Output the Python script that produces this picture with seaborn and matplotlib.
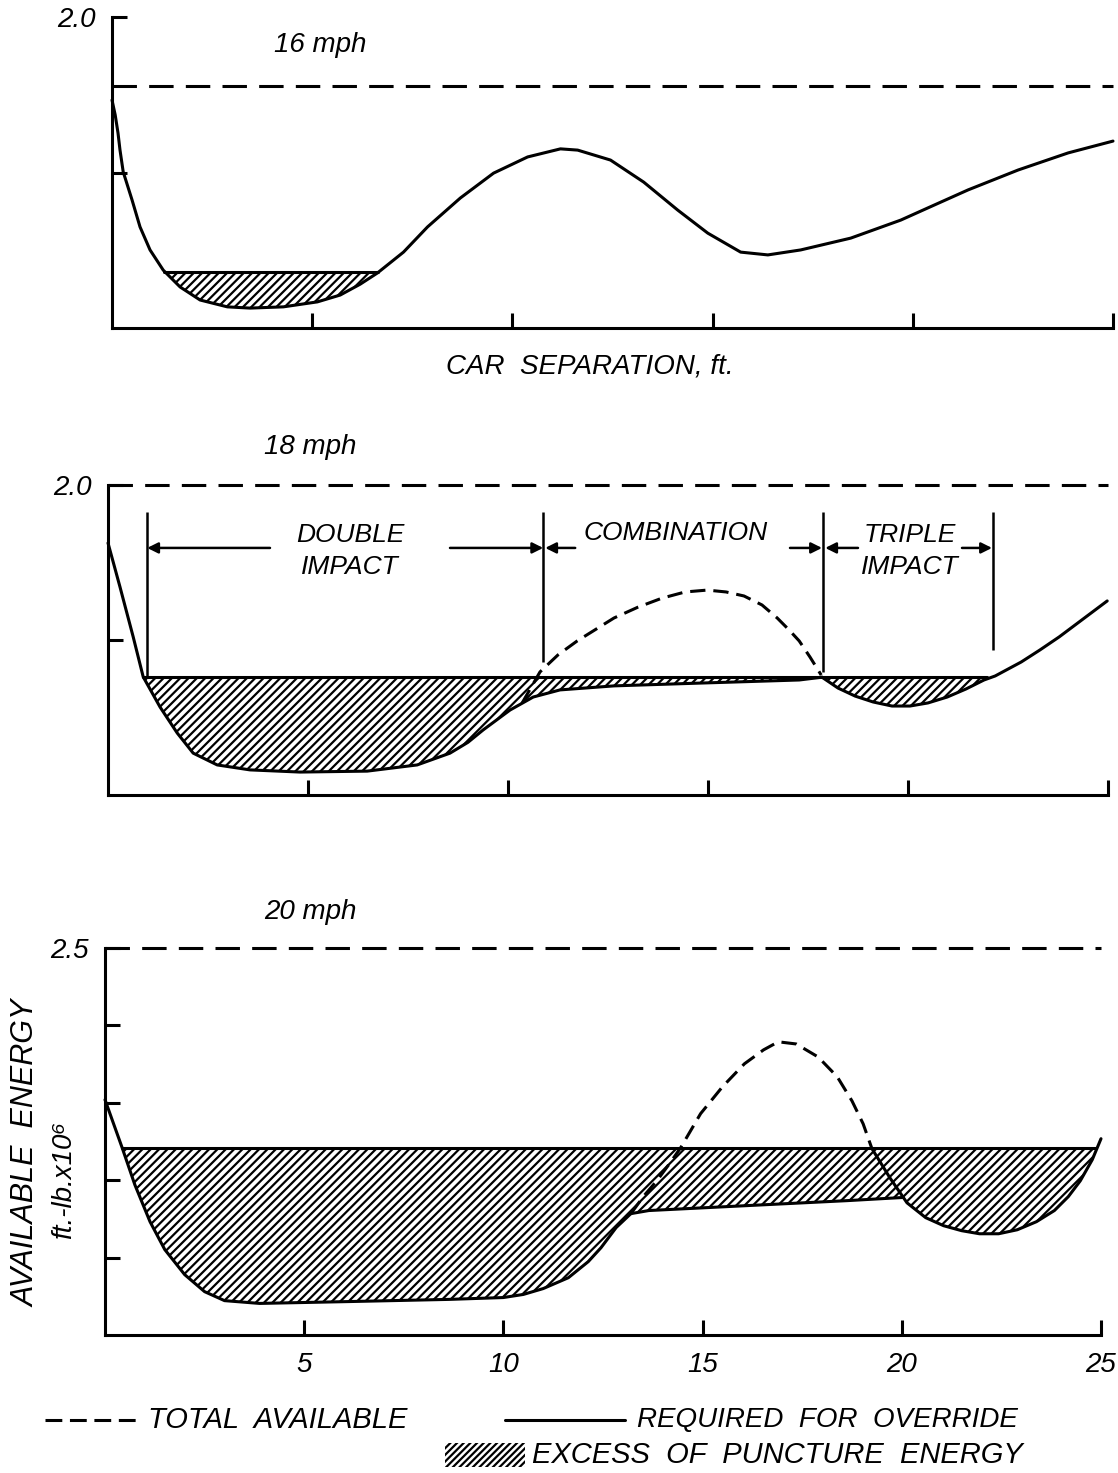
import numpy as np
import matplotlib
matplotlib.use("Agg")
import matplotlib.pyplot as plt
import seaborn as sns
from matplotlib.patches import Rectangle
from matplotlib.lines import Line2D

# ---------------- data ----------------
# 16 mph panel
p16_x = [0, 0.08, 0.15, 0.2, 0.28, 0.5, 0.7, 0.95, 1.28, 1.7, 2.2, 2.88, 3.45, 4.28, 5.13,
         5.7, 6.2, 6.63, 7.28, 7.88, 8.7, 9.53, 10.38, 11.2, 11.63, 12.45, 13.28, 14.13,
         14.88, 15.7, 16.38, 17.2, 18.45, 19.7, 20.53, 21.38, 22.63, 23.88, 25.0]
p16_y = [1.733, 1.685, 1.627, 1.572, 1.502, 1.412, 1.325, 1.251, 1.186, 1.132, 1.090, 1.068,
         1.064, 1.068, 1.084, 1.106, 1.141, 1.177, 1.244, 1.325, 1.418, 1.498, 1.550, 1.576,
         1.572, 1.540, 1.469, 1.379, 1.305, 1.244, 1.235, 1.251, 1.289, 1.347, 1.395, 1.444,
         1.508, 1.563, 1.601]
p16_total = 1.778
p16_punct = 1.18
p16_punct_span = [1.3, 6.64]

# 18 mph panel
p18_main_x = [0.0, 0.3, 0.63, 0.88, 1.3, 1.73, 2.13, 2.73, 3.55, 4.8, 6.48, 7.73, 8.55, 9.0,
              9.38, 10.05, 10.63, 11.3, 12.65, 14.8, 17.28, 17.85]
p18_main_y = [1.813, 1.671, 1.510, 1.381, 1.284, 1.200, 1.135, 1.097, 1.081, 1.074, 1.077,
              1.097, 1.135, 1.170, 1.210, 1.274, 1.316, 1.339, 1.352, 1.361, 1.371, 1.380]
p18_right_x = [17.85, 18.25, 18.68, 19.13, 19.6, 20.05, 20.5, 20.98, 21.45, 21.9, 22.18, 22.83,
               23.3, 23.78, 24.38, 24.98]
p18_right_y = [1.380, 1.345, 1.319, 1.300, 1.287, 1.287, 1.297, 1.316, 1.342, 1.371, 1.384,
               1.429, 1.468, 1.510, 1.568, 1.626]
p18_peak_x = [10.35, 10.8, 11.25, 11.73, 12.65, 13.25, 13.85, 14.43, 14.98, 15.45, 15.9, 16.35,
              16.73, 17.03, 17.28, 17.55, 17.83]
p18_peak_y = [1.296, 1.397, 1.452, 1.497, 1.571, 1.606, 1.635, 1.655, 1.661, 1.655, 1.642,
              1.613, 1.571, 1.532, 1.497, 1.445, 1.387]
p18_total = 2.0
p18_punct = 1.38
p18_punct_span = [0.88, 21.97]
region_x = [0.98, 10.88, 17.88, 22.13]
region_bottom = [1.38, 1.429, 1.397, 1.468]
region_top = 1.913
region_arrow_y = 1.797
arrow_from = [4.05, 8.55, 11.68, 17.05, 18.75, 21.35]
arrow_to = [0.98, 10.88, 10.93, 17.85, 17.93, 22.1]
region_labels = ["DOUBLE\nIMPACT", "COMBINATION", "TRIPLE\nIMPACT"]
region_label_x = [6.05, 14.2, 20.05]
region_label_y = [1.787, 1.845, 1.787]

# 20 mph panel
p20_left_x = [0, 0.18, 0.43, 0.75, 1.13, 1.5, 2.0, 2.5, 3.0, 3.88, 6.13, 8.63, 10.0, 10.5,
              11.0, 11.63, 12.13, 12.45, 12.83, 13.2]
p20_left_y = [2.010, 1.945, 1.855, 1.735, 1.616, 1.526, 1.445, 1.390, 1.361, 1.352, 1.358,
              1.365, 1.371, 1.381, 1.400, 1.435, 1.487, 1.532, 1.597, 1.642]
p20_flat_x = [13.2, 13.65, 16.13, 18.63, 20.0]
p20_flat_y = [1.642, 1.652, 1.668, 1.684, 1.694]
p20_peak_x = [13.2, 13.53, 13.85, 14.15, 14.45, 14.95, 15.5, 16.05, 16.53, 16.9, 17.35, 17.9,
              18.38, 18.75, 19.03, 19.25]
p20_peak_y = [1.642, 1.700, 1.748, 1.800, 1.855, 1.965, 2.052, 2.126, 2.171, 2.197, 2.190,
              2.148, 2.084, 2.006, 1.932, 1.852]
p20_right_x = [19.25, 19.7, 20.13, 20.6, 21.05, 21.5, 21.95, 22.43, 22.9, 23.38, 23.83, 24.18,
               24.48, 24.78, 25.0]
p20_right_y = [1.852, 1.758, 1.677, 1.629, 1.603, 1.587, 1.577, 1.577, 1.590, 1.616, 1.652,
               1.697, 1.748, 1.816, 1.884]
p20_total = 2.5
p20_punct = 1.855
p20_punct_span = [0.43, 24.88]

x_ticks = [5, 10, 15, 20, 25]
x_ticklabels = ["5", "10", "15", "20", "25"]
titles = ["16 mph", "18 mph", "20 mph"]

# ---------------- style ----------------
sns.set_theme(style="ticks")
plt.rcParams["font.family"] = ["Liberation Sans", "DejaVu Sans"]
plt.rcParams["hatch.linewidth"] = 1.6
plt.rcParams["hatch.color"] = "black"
plt.rcParams["text.color"] = "black"
plt.rcParams["xtick.color"] = "black"
plt.rcParams["ytick.color"] = "black"
plt.rcParams["axes.labelcolor"] = "black"

LW = 2.2
DASH_TOTAL = (0, (8, 4))
DASH_CURVE = (0, (5, 2.6))
FS = 20

W, H = 1118, 1473
fig = plt.figure(figsize=(W / 100, H / 100), dpi=100)
fig.patch.set_facecolor("white")

ax1 = fig.add_axes([112 / W, 1 - 328 / H, 1001 / W, 311 / H])
ax2 = fig.add_axes([108 / W, 1 - 795 / H, 1000 / W, 310 / H])
ax3 = fig.add_axes([105 / W, 1 - 1335 / H, 996 / W, 387 / H])


def curve(ax, x, y, ls="-"):
    sns.lineplot(x=x, y=y, ax=ax, color="black", linewidth=LW, linestyle=ls,
                 estimator=None, sort=False, clip_on=False)


def total_line(ax, level):
    sns.lineplot(x=[0, 25], y=[level, level], ax=ax, color="black", linewidth=LW,
                 linestyle=DASH_TOTAL, estimator=None, sort=False, clip_on=False)


def hatch_fill(ax, ex, ey, level, span):
    ex = np.asarray(ex, float)
    ey = np.asarray(ey, float)
    ax.fill_between(ex, ey, level, where=ey <= level + 1e-9, interpolate=True,
                    facecolor="none", edgecolor="black", hatch="////", linewidth=0)
    sns.lineplot(x=span, y=[level, level], ax=ax, color="black", linewidth=LW,
                 estimator=None, sort=False)


def style_axes(ax, ylim, yticks, ylabels, show_x=False):
    ax.set_xlim(0, 25)
    ax.set_ylim(*ylim)
    for s in ["top", "right"]:
        ax.spines[s].set_visible(False)
    for s in ["left", "bottom"]:
        ax.spines[s].set_linewidth(LW)
        ax.spines[s].set_color("black")
    ax.set_xticks(x_ticks)
    ax.set_xticklabels(x_ticklabels if show_x else [""] * len(x_ticks),
                       fontsize=FS, fontstyle="italic")
    ax.set_yticks(yticks)
    ax.set_yticklabels(ylabels, fontsize=FS, fontstyle="italic")
    ax.tick_params(direction="in", length=11, width=LW, color="black", pad=12)
    ax.set_xlabel("")
    ax.set_ylabel("")
    ax.set_facecolor("none")


# ---- panel 1 ----
total_line(ax1, p16_total)
hatch_fill(ax1, p16_x, p16_y, p16_punct, p16_punct_span)
curve(ax1, p16_x, p16_y)
style_axes(ax1, (1.0, 2.0), [1.5, 2.0], ["", "2.0"])
ax1.text(5.2, 1.91, titles[0], fontsize=FS, fontstyle="italic", ha="center", va="center")
ax1.text(0.4775, -0.125, "CAR  SEPARATION, ft.", transform=ax1.transAxes, fontsize=FS,
         fontstyle="italic", ha="center", va="center")

# ---- panel 2 ----
total_line(ax2, p18_total)
env18_x = p18_main_x + p18_right_x[1:]
env18_y = p18_main_y + p18_right_y[1:]
hatch_fill(ax2, env18_x, env18_y, p18_punct, p18_punct_span)
curve(ax2, p18_main_x, p18_main_y)
curve(ax2, p18_right_x, p18_right_y)
curve(ax2, p18_peak_x, p18_peak_y, ls=DASH_CURVE)
ax2.vlines(region_x, region_bottom, region_top, color="black", linewidth=1.8)
for a, b in zip(arrow_from, arrow_to):
    ax2.annotate("", xy=(b, region_arrow_y), xytext=(a, region_arrow_y),
                 arrowprops=dict(arrowstyle="-|>", color="black", lw=1.8,
                                 mutation_scale=16, shrinkA=0, shrinkB=0))
for lab, lx, ly in zip(region_labels, region_label_x, region_label_y):
    ax2.text(lx, ly, lab, fontsize=19, fontstyle="italic", ha="center", va="center",
             linespacing=1.4)
style_axes(ax2, (1.0, 2.0), [1.5, 2.0], ["", "2.0"])
ax2.text(5.05, 2.123, titles[1], fontsize=FS, fontstyle="italic", ha="center", va="center")

# ---- panel 3 ----
total_line(ax3, p20_total)
env20_x = p20_left_x + p20_flat_x[1:] + [x for x in p20_right_x if x > p20_flat_x[-1]]
env20_y = p20_left_y + p20_flat_y[1:] + [y for x, y in zip(p20_right_x, p20_right_y)
                                         if x > p20_flat_x[-1]]
hatch_fill(ax3, env20_x, env20_y, p20_punct, p20_punct_span)
curve(ax3, p20_left_x, p20_left_y)
curve(ax3, p20_flat_x, p20_flat_y)
curve(ax3, p20_right_x, p20_right_y)
curve(ax3, p20_peak_x, p20_peak_y, ls=DASH_CURVE)
style_axes(ax3, (1.25, 2.5), [1.5, 1.75, 2.0, 2.25, 2.5], ["", "", "", "", "2.5"], show_x=True)
ax3.text(5.15, 2.616, titles[2], fontsize=FS, fontstyle="italic", ha="center", va="center")

# y-axis label
fig.text(27 / W, 1 - 1153 / H, "AVAILABLE  ENERGY", rotation=90, fontsize=22,
         fontstyle="italic", ha="center", va="center")
fig.text(64 / W, 1 - 1180 / H, "ft.-lb.x10⁶", rotation=90, fontsize=20,
         fontstyle="italic", ha="center", va="center",
         family=["Liberation Sans", "DejaVu Sans"])

# ---------------- legend ----------------
ly1 = 1 - 1420 / H
fig.add_artist(Line2D([45 / W, 140 / W], [ly1, ly1], transform=fig.transFigure,
                      color="black", lw=LW, linestyle=(0, (5.5, 2.5))))
fig.text(148 / W, ly1, "TOTAL  AVAILABLE", fontsize=21, fontstyle="italic",
         ha="left", va="center")
fig.add_artist(Line2D([505 / W, 625 / W], [ly1, ly1], transform=fig.transFigure,
                      color="black", lw=LW))
fig.text(637 / W, ly1, "REQUIRED  FOR  OVERRIDE", fontsize=FS, fontstyle="italic",
         ha="left", va="center")
fig.add_artist(Rectangle((445 / W, 1 - 1467 / H), 80 / W, 24 / H, transform=fig.transFigure,
                         fill=False, hatch="/////", edgecolor="black", linewidth=0))
fig.text(532 / W, 1 - 1455 / H, "EXCESS  OF  PUNCTURE  ENERGY", fontsize=21,
         fontstyle="italic", ha="left", va="center")

fig.savefig("out.png", dpi=100, facecolor="white")
